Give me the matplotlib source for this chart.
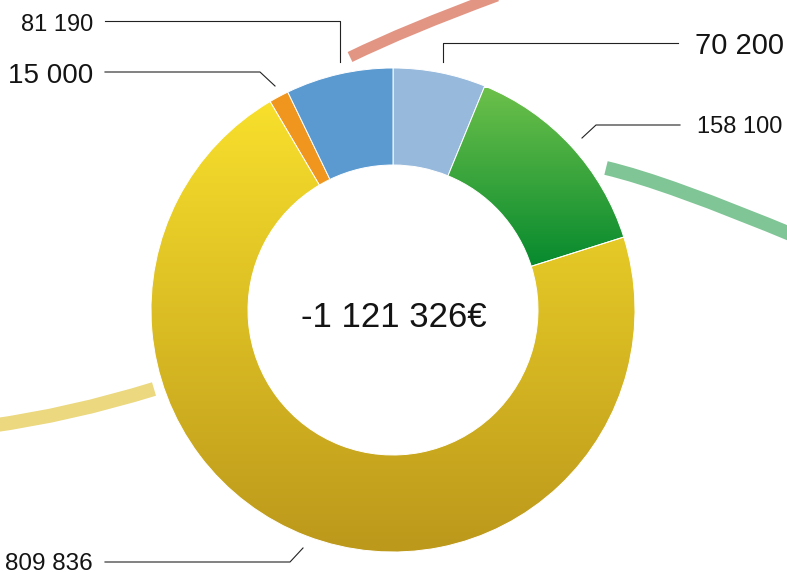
import numpy as np
import matplotlib
matplotlib.use('Agg')
import matplotlib.pyplot as plt
from matplotlib.path import Path
from matplotlib.patches import PathPatch
from matplotlib.colors import LinearSegmentedColormap

# données
valeurs = [70200, 158100, 809836, 15000, 81190]
etiquettes = ['70 200', '158 100', '809 836', '15 000', '81 190']
couleurs = ['#96B9DC', '#3FA73E', '#DCC127', '#F0961E', '#5A9AD0']
total_txt = '-1 121 326€'

W, H = 787, 572
cx, cy, R, r_in = 393, 310, 242, 145

plt.rcParams['font.family'] = ['Liberation Sans', 'DejaVu Sans']

fig = plt.figure(figsize=(W / 100, H / 100), dpi=100)
ax = fig.add_axes([0, 0, 1, 1])

# anneau (y inversé -> sens horaire visuel)
wedges, _ = ax.pie(valeurs, colors=couleurs, startangle=-90, counterclock=True,
                   radius=R, center=(cx, cy),
                   wedgeprops=dict(width=R - r_in, edgecolor='white', linewidth=0.7))

# dégradés vert et jaune
def degrade(wedge, c_haut, c_bas, y_haut, y_bas):
    cmap = LinearSegmentedColormap.from_list('g', [c_haut, c_bas])
    grad = np.linspace(0, 1, 256).reshape(-1, 1)
    im = ax.imshow(grad, cmap=cmap, aspect='auto', interpolation='bilinear',
                   extent=(cx - R, cx + R, y_bas, y_haut), origin='upper', zorder=1.5)
    im.set_clip_path(wedge)
    wedge.set_facecolor('none')
    wedge.set_zorder(2)

degrade(wedges[1], '#6CC04A', '#078A2E', 88, 266)
degrade(wedges[2], '#F8E02C', '#BC981B', 100, 552)

# arcs décoratifs
arcs = [
    ((350, 57), (405, 30), (497, -4), '#E39584', 11),
    ((606, 168), (666, 182), (800, 238), '#80C596', 14),
    ((154, 389), (70, 415), (-10, 426), '#EBD87F', 14),
]
for p0, c, p2, col, lw in arcs:
    path = Path([p0, c, p2], [Path.MOVETO, Path.CURVE3, Path.CURVE3])
    ax.add_patch(PathPatch(path, facecolor='none', edgecolor=col,
                           linewidth=lw * 0.72, capstyle='butt', zorder=3))

# lignes de rappel
lignes = [
    [(678, 43), (443, 43), (443, 62)],
    [(680, 125), (596, 125), (582, 138)],
    [(105, 562), (290, 562), (303, 548)],
    [(105, 72), (260, 72), (275, 86)],
    [(105, 21), (340, 21), (340, 62)],
]
for pts in lignes:
    xs, ys = zip(*pts)
    ax.plot(xs, ys, color='#222222', lw=0.8, zorder=4)

# étiquettes
pos = [(695, 54, 'left', 21), (697, 133, 'left', 17), (5, 570, 'left', 17.5),
       (93, 83, 'right', 20), (93, 31, 'right', 17)]
for lab, (x, y, ha, fs) in zip(etiquettes, pos):
    ax.text(x, y, lab, ha=ha, va='baseline', fontsize=fs, color='#141414')

ax.text(394, 327, total_txt, ha='center', va='baseline', fontsize=25,
        color='#141414')

ax.set_xlim(0, W)
ax.set_ylim(H, 0)
ax.set_aspect('auto')
ax.axis('off')

fig.savefig('out.png', dpi=100)
